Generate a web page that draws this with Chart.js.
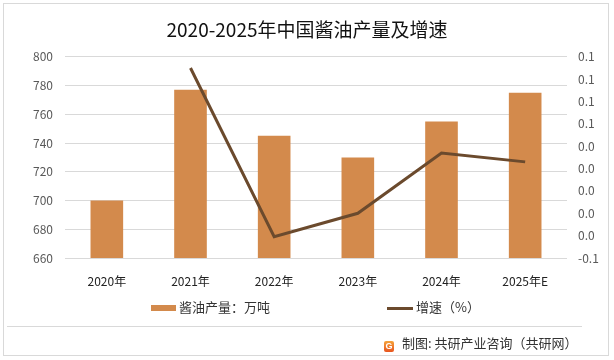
<!DOCTYPE html>
<html lang="zh">
<head>
    <meta charset="UTF-8">
    <title>2020-2025年中国酱油产量及增速</title>
    <script src="https://cdn.jsdelivr.net/npm/chart.js"></script>
    <style>
        body {
            margin: 0;
            padding: 0;
            background: #fff;
            font-family: "Noto Sans CJK SC", "Noto Sans", sans-serif;
        }

        .wrap {
            position: relative;
            width: 614px;
            height: 360px;
            overflow: hidden;
        }

        #chart {
            position: absolute;
            left: 0;
            top: 0;
        }

        .frame {
            position: absolute;
            left: 3px;
            top: 3px;
            width: 604px;
            height: 351px;
            border: 1px solid #d9d9d9;
            pointer-events: none;
        }

        .legend {
            position: absolute;
            top: 298px;
            font-size: 13px;
            color: #333;
            line-height: 18px;
            white-space: nowrap;
        }

        .legend .sw-bar {
            display: inline-block;
            width: 25px;
            height: 6px;
            background: #d38a4c;
            vertical-align: middle;
            margin-right: 3px;
        }

        .legend .sw-line {
            display: inline-block;
            width: 26px;
            height: 3px;
            background: #6b4a2d;
            vertical-align: middle;
            margin-right: 3px;
        }

        .sep {
            position: absolute;
            left: 7px;
            top: 326px;
            width: 575px;
            height: 1px;
            background: #d9d9d9;
        }

        .footer {
            position: absolute;
            left: 384px;
            top: 334px;
            font-size: 13px;
            color: #333;
            line-height: 18px;
            white-space: nowrap;
        }

        .logo {
            display: inline-block;
            width: 10px;
            height: 11px;
            border-radius: 2px;
            background: linear-gradient(#f5a33a, #e8541e);
            color: #fff;
            font: bold 9px Arial, sans-serif;
            line-height: 11px;
            text-align: center;
            vertical-align: -1px;
            margin-right: 8px;
        }
    </style>
</head>
<body>
    <div class="wrap">
        <canvas id="chart" width="614" height="360"></canvas>
        <div class="frame"></div>
        <div class="legend" style="left:151px;"><span class="sw-bar"></span>酱油产量：万吨</div>
        <div class="legend" style="left:387px;"><span class="sw-line"></span>增速（%）</div>
        <div class="sep"></div>
        <div class="footer"><span class="logo">G</span>制图: 共研产业咨询（共研网）</div>
    </div>

    <script>
        // data
        const years = ['2020年', '2021年', '2022年', '2023年', '2024年', '2025年E'];
        const output = [700, 777, 745, 730, 755, 775];        // 万吨
        const growth = [null, 0.11, -0.041, -0.02, 0.034, 0.026];

        const font = '"Noto Sans CJK SC", "Noto Sans", sans-serif';

        const ctx = document.getElementById('chart').getContext('2d');
        const chart = new Chart(ctx, {
            data: {
                labels: years,
                datasets: [{
                    type: 'line',
                    label: '增速（%）',
                    data: growth,
                    yAxisID: 'y1',
                    borderColor: '#6b4a2d',
                    borderWidth: 3,
                    pointRadius: 0,
                    tension: 0,
                    order: 0
                }, {
                    type: 'bar',
                    label: '酱油产量：万吨',
                    data: output,
                    yAxisID: 'y',
                    backgroundColor: '#d38a4c',
                    categoryPercentage: 1,
                    barPercentage: 0.39,
                    order: 1
                }]
            },
            options: {
                responsive: false,
                animation: false,
                layout: {
                    padding: { left: 0, right: 0, top: 0, bottom: 68 }
                },
                plugins: {
                    legend: { display: false },
                    tooltip: { enabled: false },
                    title: {
                        display: true,
                        text: '2020-2025年中国酱油产量及增速',
                        color: '#111',
                        font: { family: font, size: 19, weight: 'normal' },
                        padding: { top: 18, bottom: 16 }
                    }
                },
                scales: {
                    x: {
                        grid: { display: false },
                        border: { display: false },
                        ticks: {
                            color: '#222',
                            font: { family: font, size: 12 },
                            padding: 8,
                            maxRotation: 0
                        },
                        afterFit: function (s) { s.height = 34; }
                    },
                    y: {
                        position: 'left',
                        min: 660,
                        max: 800,
                        ticks: {
                            stepSize: 20,
                            color: '#595959',
                            font: { family: font, size: 12 },
                            padding: 12
                        },
                        grid: { color: '#d9d9d9', drawTicks: false },
                        border: { display: false },
                        afterFit: function (s) { s.width = 65; }
                    },
                    y1: {
                        position: 'right',
                        min: -0.06,
                        max: 0.12,
                        ticks: {
                            stepSize: 0.02,
                            color: '#595959',
                            font: { family: font, size: 12 },
                            padding: 11,
                            callback: function (v) {
                                let s = Number(v).toFixed(1);
                                if (s === '-0.0') s = '0.0';
                                return s;
                            }
                        },
                        grid: { display: false, drawTicks: false },
                        border: { display: false },
                        afterFit: function (s) { s.width = 47; }
                    }
                }
            }
        });
    </script>
</body>
</html>
